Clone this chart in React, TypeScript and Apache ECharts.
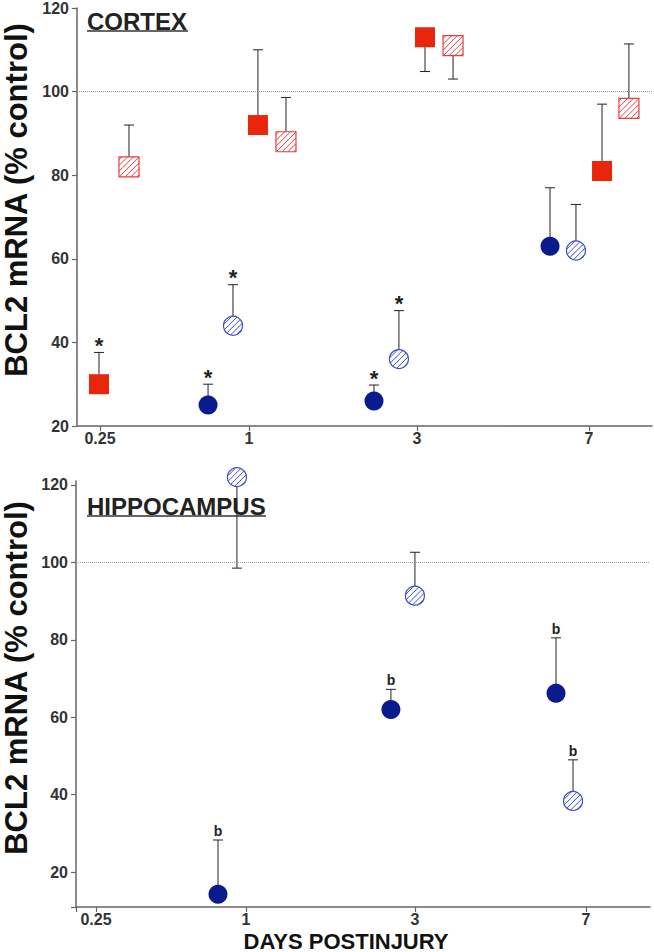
import React, { useEffect, useRef } from "react";
import * as echarts from "echarts";

const dayLabels = ["0.25", "1", "3", "7"];
const cortexTickPos = [0, 0.914, 1.945, 3.0];
const hippoTickPos = [0, 0.918, 1.953, 3.0];
const yTicks = [20, 40, 60, 80, 100, 120];

// CORTEX
const cxBlueSolidX = [0.663, 1.681, 2.761];
const cxBlueSolidY = [25, 26, 63];
const cxBlueSolidErr = [30, 29.8, 77];
const cxBlueSolidMark = ["*", "*", ""];
const cxBlueHatchX = [0.816, 1.834, 2.92];
const cxBlueHatchY = [44, 36, 62];
const cxBlueHatchErr = [53.8, 47.6, 73];
const cxBlueHatchMark = ["*", "*", ""];
const cxRedSolidX = [-0.006, 0.969, 1.994, 3.08];
const cxRedSolidY = [30, 92, 113, 81];
const cxRedSolidErr = [37.6, 110, 104.8, 97];
const cxRedSolidMark = ["*", "", "", ""];
const cxRedHatchX = [0.178, 1.141, 2.166, 3.245];
const cxRedHatchY = [82, 88, 111, 96];
const cxRedHatchErr = [92, 98.6, 103, 111.4];
const cxRedHatchMark = ["", "", "", ""];

// HIPPOCAMPUS
const hcBlueSolidX = [0.747, 1.806, 2.817];
const hcBlueSolidY = [14.3, 62, 66.2];
const hcBlueSolidErr = [28.3, 67.2, 80.5];
const hcBlueSolidMark = ["b", "b", "b"];
const hcBlueHatchX = [0.863, 1.953, 2.921];
const hcBlueHatchY = [122, 91.4, 38.4];
const hcBlueHatchErr = [98.5, 102.6, 49];
const hcBlueHatchMark = ["", "", "b"];

const RED = "#e8260c";
const RED_H = "#ec3c3c";
const NAVY = "#0b1a8c";
const BLUE_H = "#3d4bd6";
const FONT = '"Liberation Sans", Arial, sans-serif';

function errSeries(idx: number, xs: number[], ys: number[], es: number[], marks: string[]) {
  return {
    type: "custom",
    xAxisIndex: idx,
    yAxisIndex: idx,
    z: 1,
    clip: false,
    silent: true,
    encode: { x: 0, y: [1, 2] },
    data: xs.map((x, i) => [x, ys[i], es[i]]),
    renderItem: (params: any, api: any) => {
      const p0 = api.coord([api.value(0), api.value(1)]);
      const p1 = api.coord([api.value(0), api.value(2)]);
      const children: any[] = [
        { type: "line", shape: { x1: p0[0], y1: p0[1], x2: p1[0], y2: p1[1] }, style: { stroke: "#222", lineWidth: 1 } },
        { type: "line", shape: { x1: p1[0] - 5, y1: p1[1], x2: p1[0] + 5, y2: p1[1] }, style: { stroke: "#222", lineWidth: 1 } },
      ];
      const m = marks[params.dataIndex];
      if (m === "*") {
        children.push({
          type: "text",
          x: p1[0],
          y: p1[1] - 7,
          style: { text: "*", font: `bold 22px ${FONT}`, fill: "#222", align: "center", verticalAlign: "middle" },
        });
      } else if (m) {
        children.push({
          type: "text",
          x: p1[0],
          y: p1[1] - 2,
          style: { text: m, font: `bold 14px ${FONT}`, fill: "#222", align: "center", verticalAlign: "bottom" },
        });
      }
      return { type: "group", children };
    },
  };
}

function solidSeries(idx: number, xs: number[], ys: number[], symbol: string, size: number, color: string, withRef = false) {
  const s: any = {
    type: "scatter",
    xAxisIndex: idx,
    yAxisIndex: idx,
    z: 3,
    clip: false,
    symbol,
    symbolSize: size,
    itemStyle: { color, opacity: 1 },
    silent: true,
    data: xs.map((x, i) => [x, ys[i]]),
  };
  if (withRef) {
    s.markLine = {
      silent: true,
      symbol: ["none", "none"],
      label: { show: false },
      lineStyle: { type: "dotted", color: "#9a9a9a", width: 1 },
      data: [{ yAxis: 100 }],
    };
  }
  return s;
}

function hatchSeries(idx: number, xs: number[], ys: number[], shape: "rect" | "circle", size: number, color: string) {
  return {
    type: "custom",
    xAxisIndex: idx,
    yAxisIndex: idx,
    z: 3,
    clip: false,
    silent: true,
    data: xs.map((x, i) => [x, ys[i]]),
    renderItem: (_params: any, api: any) => {
      const p = api.coord([api.value(0), api.value(1)]);
      const cx = p[0];
      const cy = p[1];
      const h = size / 2;
      const children: any[] = [];
      if (shape === "rect") {
        children.push({ type: "rect", shape: { x: cx - h, y: cy - h, width: size, height: size }, style: { fill: "#fff" } });
      } else {
        children.push({ type: "circle", shape: { cx, cy, r: h }, style: { fill: "#fff" } });
      }
      const step = 5.8;
      const lim = shape === "rect" ? 2 * h : h * Math.SQRT2;
      for (let u = -lim + step / 2; u < lim; u += step) {
        let x1: number, y1: number, x2: number, y2: number;
        if (shape === "rect") {
          const d1 = Math.max(-h, u - h);
          const d2 = Math.min(h, u + h);
          x1 = cx + d1;
          y1 = cy + u - d1;
          x2 = cx + d2;
          y2 = cy + u - d2;
        } else {
          const L = Math.sqrt(Math.max(0, h * h - (u * u) / 2));
          const k = L / Math.SQRT2;
          x1 = cx + u / 2 - k;
          y1 = cy + u / 2 + k;
          x2 = cx + u / 2 + k;
          y2 = cy + u / 2 - k;
        }
        children.push({ type: "line", shape: { x1, y1, x2, y2 }, style: { stroke: color, lineWidth: 1 } });
      }
      if (shape === "rect") {
        children.push({
          type: "rect",
          shape: { x: cx - h, y: cy - h, width: size, height: size },
          style: { fill: "none", stroke: color, lineWidth: 1.2 },
        });
      } else {
        children.push({ type: "circle", shape: { cx, cy, r: h }, style: { fill: "none", stroke: color, lineWidth: 1.2 } });
      }
      return { type: "group", children };
    },
  };
}

function xAxis(idx: number, min: number, max: number, ticks: number[], extraTicks: number[]) {
  return {
    type: "value",
    gridIndex: idx,
    min,
    max,
    splitLine: { show: false },
    axisLine: { onZero: false, lineStyle: { color: "#666", width: 1.5 } },
    axisTick: { customValues: extraTicks.concat(ticks), length: 5, lineStyle: { color: "#666", width: 1.2 } },
    axisLabel: {
      customValues: ticks,
      margin: 4,
      fontFamily: FONT,
      fontWeight: "bold",
      fontSize: 16,
      color: "#333",
      formatter: (v: number) => {
        let best = 0;
        ticks.forEach((t, i) => {
          if (Math.abs(t - v) < Math.abs(ticks[best] - v)) best = i;
        });
        return dayLabels[best];
      },
    },
  };
}

function yAxis(idx: number, min: number, max: number, extraTicks: number[]) {
  return {
    type: "value",
    gridIndex: idx,
    min,
    max,
    splitLine: { show: false },
    axisLine: { show: true, onZero: false, lineStyle: { color: "#666", width: 1.5 } },
    axisTick: { show: true, customValues: extraTicks.concat(yTicks), length: 5, lineStyle: { color: "#666", width: 1.2 } },
    axisLabel: {
      customValues: yTicks,
      margin: 8,
      fontFamily: FONT,
      fontWeight: "bold",
      fontSize: 16,
      color: "#333",
    },
  };
}

export default function App() {
  const ref = useRef<HTMLDivElement>(null);
  useEffect(() => {
    if (!ref.current) return;
    const chart = echarts.init(ref.current, null, { renderer: "svg" });
    const option: any = {
      animation: false,
      backgroundColor: "#fff",
      grid: [
        { left: 77, top: 6, width: 575, height: 420 },
        { left: 76, top: 481, width: 574, height: 426 },
      ],
      xAxis: [
        xAxis(0, -0.141, 3.3865, cortexTickPos, []),
        xAxis(1, -0.1225, 3.3925, hippoTickPos, [-0.1225]),
      ],
      yAxis: [yAxis(0, 20, 120, []), yAxis(1, 11, 121, [11])],
      graphic: [
        {
          type: "text",
          x: 16,
          y: 200,
          rotation: Math.PI / 2,
          style: { text: "BCL2 mRNA (% control)", font: `bold 31px ${FONT}`, fill: "#111", align: "center", verticalAlign: "middle" },
        },
        {
          type: "text",
          x: 16,
          y: 678,
          rotation: Math.PI / 2,
          style: { text: "BCL2 mRNA (% control)", font: `bold 31px ${FONT}`, fill: "#111", align: "center", verticalAlign: "middle" },
        },
        {
          type: "text",
          x: 87,
          y: 21,
          style: { text: "CORTEX", font: `bold 24px ${FONT}`, fill: "#222", align: "left", verticalAlign: "middle" },
        },
        { type: "line", shape: { x1: 87, y1: 31, x2: 188, y2: 31 }, style: { stroke: "#333", lineWidth: 1.5 } },
        {
          type: "text",
          x: 87,
          y: 506,
          style: { text: "HIPPOCAMPUS", font: `bold 24px ${FONT}`, fill: "#222", align: "left", verticalAlign: "middle" },
        },
        { type: "line", shape: { x1: 87, y1: 516, x2: 266, y2: 516 }, style: { stroke: "#333", lineWidth: 1.5 } },
        {
          type: "text",
          x: 346,
          y: 941,
          style: { text: "DAYS POSTINJURY", font: `bold 22px ${FONT}`, fill: "#111", align: "center", verticalAlign: "middle" },
        },
      ],
      series: [
        errSeries(0, cxBlueSolidX, cxBlueSolidY, cxBlueSolidErr, cxBlueSolidMark),
        errSeries(0, cxBlueHatchX, cxBlueHatchY, cxBlueHatchErr, cxBlueHatchMark),
        errSeries(0, cxRedSolidX, cxRedSolidY, cxRedSolidErr, cxRedSolidMark),
        errSeries(0, cxRedHatchX, cxRedHatchY, cxRedHatchErr, cxRedHatchMark),
        errSeries(1, hcBlueSolidX, hcBlueSolidY, hcBlueSolidErr, hcBlueSolidMark),
        errSeries(1, hcBlueHatchX, hcBlueHatchY, hcBlueHatchErr, hcBlueHatchMark),
        solidSeries(0, cxBlueSolidX, cxBlueSolidY, "circle", 19, NAVY, true),
        hatchSeries(0, cxBlueHatchX, cxBlueHatchY, "circle", 19, BLUE_H),
        solidSeries(0, cxRedSolidX, cxRedSolidY, "rect", 20, RED),
        hatchSeries(0, cxRedHatchX, cxRedHatchY, "rect", 20, RED_H),
        solidSeries(1, hcBlueSolidX, hcBlueSolidY, "circle", 19, NAVY, true),
        hatchSeries(1, hcBlueHatchX, hcBlueHatchY, "circle", 19, BLUE_H),
      ],
    };
    chart.setOption(option);
    return () => chart.dispose();
  }, []);
  return (
    <div
      ref={ref}
      style={{ position: "fixed", left: 0, top: 0, width: 654, height: 952, background: "#fff" }}
    />
  );
}
